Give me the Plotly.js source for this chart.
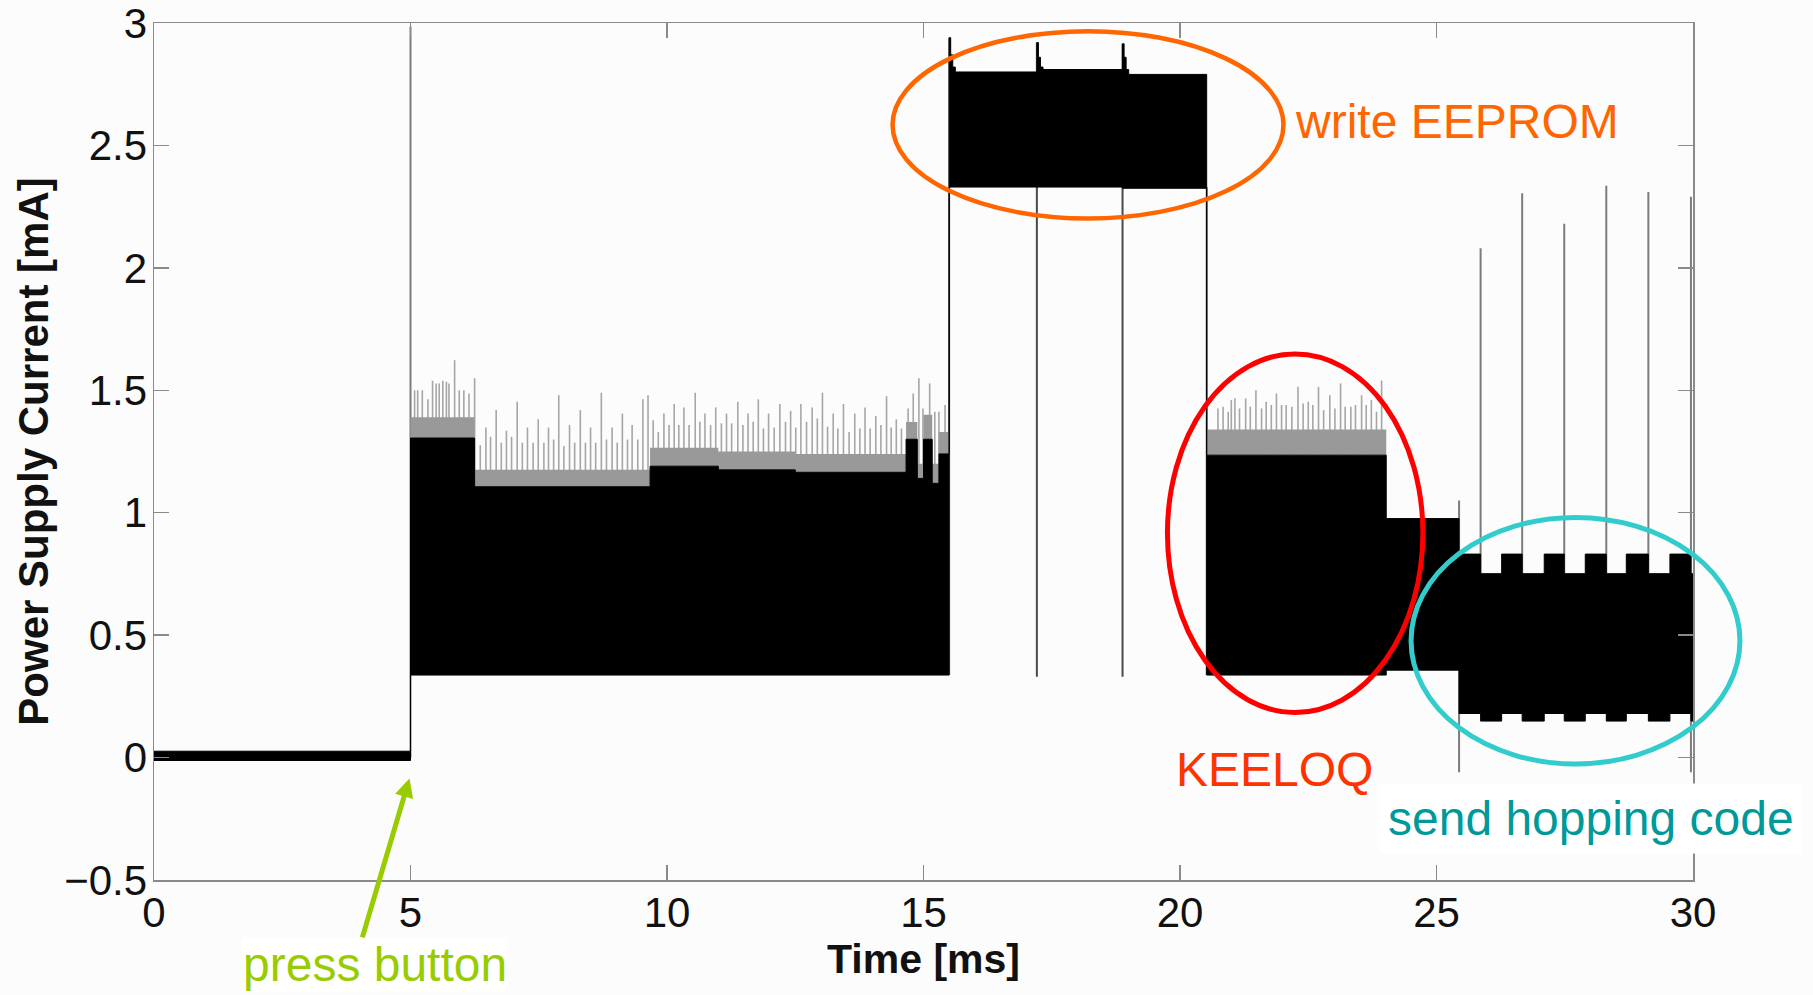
<!DOCTYPE html>
<html>
<head>
<meta charset="utf-8">
<script src="https://cdn.plot.ly/plotly-3.0.1.min.js"></script>
<style>html,body{margin:0;padding:0;background:#fcfcfc;}#chart{width:1813px;height:995px;}</style>
</head>
<body>
<div id="chart"></div>
<script>
// ---- Data ----
// Piecewise envelope of the dense current trace: segment start time [ms]
const segStart  = [0, 5.0, 6.25, 9.67, 11.0, 12.5, 14.66, 14.88, 15.0, 15.17, 15.3,
                   15.5, 15.53, 15.57, 15.62, 17.21, 17.24, 17.28, 17.33, 18.88, 18.91, 18.95, 19.0,
                   20.52, 24.02, 25.44, 25.86, 26.27, 26.67, 27.1, 27.49, 27.9, 28.31, 28.7, 29.13, 29.55, 29.96];
const segEndTime = 30;
// lower edge of the black band [mA]
const segBottom = [-0.012, 0.337, 0.337, 0.337, 0.337, 0.337, 0.337, 0.337, 0.337, 0.337, 0.337,
                   2.33, 2.33, 2.33, 2.33, 2.33, 2.33, 2.33, 2.33, 2.325, 2.325, 2.325, 2.325,
                   0.337, 0.357, 0.18, 0.149, 0.18, 0.149, 0.18, 0.149, 0.18, 0.149, 0.18, 0.149, 0.18, 0.149];
// upper edge of the black band [mA]
const segTop    = [0.026, 1.305, 1.106, 1.19, 1.175, 1.165, 1.30, 1.14, 1.30, 1.12, 1.24,
                   2.94, 2.87, 2.82, 2.80, 2.92, 2.86, 2.82, 2.81, 2.915, 2.86, 2.81, 2.79,
                   1.235, 0.976, 0.831, 0.751, 0.831, 0.751, 0.831, 0.751, 0.831, 0.751, 0.831, 0.751, 0.831, 0.751];
// upper edge of the grey (less dense) band [mA]
const segHalo   = [0.026, 1.39, 1.175, 1.265, 1.25, 1.24, 1.37, 1.20, 1.40, 1.20, 1.33,
                   2.94, 2.87, 2.82, 2.80, 2.92, 2.86, 2.82, 2.81, 2.915, 2.86, 2.81, 2.79,
                   1.34, 0.976, 0.831, 0.751, 0.831, 0.751, 0.831, 0.751, 0.831, 0.751, 0.831, 0.751, 0.831, 0.751];

// Thin grey spikes above the band
const spikeX = [5.08, 5.14, 5.23, 5.34, 5.43, 5.50, 5.56, 5.63, 5.70, 5.75, 5.86, 5.95, 6.04, 6.14, 6.25,
  6.36, 6.47, 6.56, 6.67, 6.77, 6.87, 6.97, 7.08, 7.18, 7.28, 7.39, 7.49, 7.60, 7.69, 7.79, 7.89, 7.99,
  8.10, 8.20, 8.31, 8.41, 8.51, 8.61, 8.72, 8.82, 8.93, 9.03, 9.13, 9.23, 9.32, 9.43, 9.53, 9.63,
  9.73, 9.83, 9.94, 10.04, 10.14, 10.23, 10.33, 10.43, 10.55, 10.64, 10.74, 10.85, 10.95, 11.06, 11.16,
  11.26, 11.38, 11.48, 11.58, 11.68, 11.78, 11.88, 11.98, 12.09, 12.20, 12.31, 12.41, 12.51, 12.61,
  12.72, 12.83, 12.93, 13.03, 13.13, 13.24, 13.33, 13.44, 13.55, 13.66, 13.76, 13.86, 13.96, 14.07,
  14.17, 14.28, 14.37, 14.47, 14.57, 14.70, 14.80, 14.91, 14.99, 15.12, 15.22, 15.30, 15.42,
  20.74, 20.84, 20.94, 21.00, 21.07, 21.16, 21.28, 21.37, 21.48, 21.59, 21.68, 21.78, 21.88, 21.98,
  22.07, 22.18, 22.30, 22.40, 22.50, 22.59, 22.70, 22.80, 22.92, 23.02, 23.13, 23.22, 23.33, 23.42,
  23.54, 23.63, 23.73, 23.83, 23.93];
const spikeY = [1.50, 1.50, 1.50, 1.463, 1.539, 1.528, 1.528, 1.539, 1.535, 1.528, 1.623, 1.50, 1.50, 1.487, 1.549,
  1.276, 1.348, 1.31, 1.419, 1.286, 1.335, 1.31, 1.453, 1.286, 1.348, 1.286, 1.382, 1.286, 1.348, 1.299, 1.48, 1.272,
  1.358, 1.286, 1.419, 1.286, 1.348, 1.286, 1.49, 1.299, 1.348, 1.286, 1.405, 1.299, 1.358, 1.299, 1.463, 1.48,
  1.378, 1.33, 1.405, 1.358, 1.444, 1.358, 1.43, 1.358, 1.49, 1.371, 1.405, 1.358, 1.43, 1.365, 1.405,
  1.365, 1.453, 1.358, 1.405, 1.371, 1.463, 1.344, 1.405, 1.348, 1.444, 1.371, 1.416, 1.348, 1.444,
  1.371, 1.43, 1.385, 1.49, 1.351, 1.405, 1.344, 1.444, 1.33, 1.405, 1.344, 1.43, 1.344, 1.395,
  1.358, 1.476, 1.348, 1.381, 1.344, 1.426, 1.487, 1.549, 1.426, 1.528, 1.412, 1.412, 1.44,
  1.426, 1.433, 1.412, 1.46, 1.467, 1.426, 1.467, 1.433, 1.50, 1.426, 1.453, 1.44, 1.487, 1.44,
  1.44, 1.433, 1.514, 1.446, 1.453, 1.44, 1.514, 1.419, 1.48, 1.426, 1.528, 1.433, 1.433, 1.44,
  1.48, 1.44, 1.46, 1.412, 1.54];

// Long transient lines (start / stop of activity)
const tallX    = [5.0, 15.5, 17.21, 18.88, 20.52, 25.44, 25.86, 26.67, 27.49, 28.31, 29.13, 29.96];
const tallLow  = [0.0, 0.337, 0.33, 0.33, 0.337, -0.06, 0.751, 0.751, 0.751, 0.751, 0.751, -0.06];
const tallHigh = [2.985, 2.94, 2.92, 2.915, 2.33, 1.05, 2.08, 2.305, 2.18, 2.335, 2.31, 2.29];

// Axis ticks
const xTickVals = [0, 5, 10, 15, 20, 25, 30];
const yTickVals = [-0.5, 0, 0.5, 1, 1.5, 2, 2.5, 3];
const yTickText = ['\u22120.5', '0', '0.5', '1', '1.5', '2', '2.5', '3'];

// Titles and annotation labels
const xTitle = 'Time [ms]';
const yTitle = 'Power Supply Current [mA]';
const labelEeprom = 'write EEPROM';
const labelKeeloq = 'KEELOQ';
const labelHopping = 'send hopping code';
const labelPress = 'press button';

// ---- Build traces ----
function envelopePath(values) {
  const xs = [], ys = [];
  for (let i = 0; i < segStart.length; i++) {
    const end = i + 1 < segStart.length ? segStart[i + 1] : segEndTime;
    xs.push(segStart[i], end);
    ys.push(values[i], values[i]);
  }
  return {x: xs, y: ys};
}
function topAt(x) {
  let k = 0;
  for (let i = 0; i < segStart.length; i++) if (segStart[i] <= x) k = i;
  return segTop[k];
}

const traces = [];
// tall lines (drawn first, covered by the dense band where they overlap it)
tallX.forEach((tx, i) => {
  traces.push({x: [tx, tx], y: [tallLow[i], tallHigh[i]], mode: 'lines', type: 'scatter',
    line: {color: (i === 2 || i === 3) ? '#4a4a4a' : '#7c7c7c', width: 2}, hoverinfo: 'skip', showlegend: false});
});
// spikes
const sx = [], sy = [];
spikeX.forEach((x, i) => { sx.push(x, x, null); sy.push(topAt(x), spikeY[i], null); });
traces.push({x: sx, y: sy, mode: 'lines', type: 'scatter', line: {color: '#a6a6a6', width: 1.6},
  hoverinfo: 'skip', showlegend: false});

const pTop = envelopePath(segTop), pHalo = envelopePath(segHalo), pBot = envelopePath(segBottom);
// grey halo band
traces.push({x: pTop.x, y: pTop.y, mode: 'lines', line: {width: 0, color: 'rgba(0,0,0,0)'}, hoverinfo: 'skip', showlegend: false});
traces.push({x: pHalo.x, y: pHalo.y, mode: 'lines', fill: 'tonexty', fillcolor: '#999999',
  line: {width: 0, color: 'rgba(0,0,0,0)'}, hoverinfo: 'skip', showlegend: false});
// black dense band
traces.push({x: pBot.x, y: pBot.y, mode: 'lines', line: {width: 1, color: '#000'}, hoverinfo: 'skip', showlegend: false});
traces.push({x: pTop.x, y: pTop.y, mode: 'lines', fill: 'tonexty', fillcolor: '#000',
  line: {width: 1, color: '#000'}, hoverinfo: 'skip', showlegend: false});

const FONT = 'Liberation Sans, Arial, Helvetica, sans-serif';
const axisCommon = {
  showline: true, linecolor: '#8a8a8a', linewidth: 1.5, mirror: 'ticks',
  ticks: 'inside', ticklen: 15, tickwidth: 1.5, tickcolor: '#8a8a8a',
  showgrid: false, zeroline: false, ticklabeloverflow: 'allow',
  tickfont: {family: FONT, size: 42, color: '#111'}
};

const layout = {
  width: 1813, height: 995,
  margin: {l: 154, r: 120, t: 23, b: 115},
  paper_bgcolor: '#fcfcfc', plot_bgcolor: '#fcfcfc',
  showlegend: false,
  xaxis: Object.assign({}, axisCommon, {
    range: [0, 30], tickmode: 'array', tickvals: xTickVals, ticktext: xTickVals.map(String),
    ticklabelstandoff: -5,
    title: {text: xTitle, font: {family: FONT, size: 41, color: '#111', weight: 'bold'}, standoff: 0}
  }),
  yaxis: Object.assign({}, axisCommon, {
    range: [-0.5, 3], tickmode: 'array', tickvals: yTickVals, ticktext: yTickText,
    ticklabelstandoff: -3,
    title: {text: yTitle, font: {family: FONT, size: 42, color: '#111', weight: 'bold'}, standoff: 2}
  }),
  shapes: [
    {type: 'circle', xref: 'paper', yref: 'paper', x0: 0.4799, x1: 0.7339, y0: 0.7719, y1: 0.9904,
     line: {color: 'rgb(255,102,0)', width: 4.5}},
    {type: 'circle', xref: 'paper', yref: 'paper', x0: 0.6585, x1: 0.8245, y0: 0.1954, y1: 0.6138,
     line: {color: 'rgb(255,0,0)', width: 5}},
    {type: 'circle', xref: 'paper', yref: 'paper', x0: 0.8168, x1: 1.0305, y0: 0.1354, y1: 0.423,
     line: {color: 'rgb(51,204,204)', width: 5}}
  ],
  annotations: [
    {text: labelEeprom, xref: 'paper', yref: 'paper', x: 0.7400, y: 0.8856, xanchor: 'left', yanchor: 'middle',
     showarrow: false, font: {family: FONT, size: 48, color: 'rgb(255,102,0)'}},
    {text: labelKeeloq, xref: 'paper', yref: 'paper', x: 0.728, y: 0.1284, xanchor: 'center', yanchor: 'middle',
     showarrow: false, font: {family: FONT, size: 48, color: 'rgb(255,51,0)'}},
    {text: labelHopping, xref: 'paper', yref: 'paper', x: 0.7957, y: 0.0712, xanchor: 'left', yanchor: 'middle',
     showarrow: false, bgcolor: '#ffffff', borderpad: 8, font: {family: FONT, size: 48, color: 'rgb(0,153,153)'}},
    {text: labelPress, xref: 'paper', yref: 'paper', x: 0.1433, y: -0.0990, xanchor: 'center', yanchor: 'middle',
     showarrow: false, bgcolor: '#ffffff', borderpad: 0, font: {family: FONT, size: 48, color: 'rgb(153,204,0)'}},
    {text: ' ', xref: 'x', yref: 'y', x: 4.98, y: -0.085, showarrow: true, ax: -48, ay: 162,
     arrowhead: 2, arrowsize: 0.75, arrowwidth: 5, arrowcolor: 'rgb(153,204,0)', standoff: 0, startstandoff: 0,
     font: {size: 2}}
  ]
};

Plotly.newPlot('chart', traces, layout, {staticPlot: true, displayModeBar: false});
</script>
</body>
</html>
